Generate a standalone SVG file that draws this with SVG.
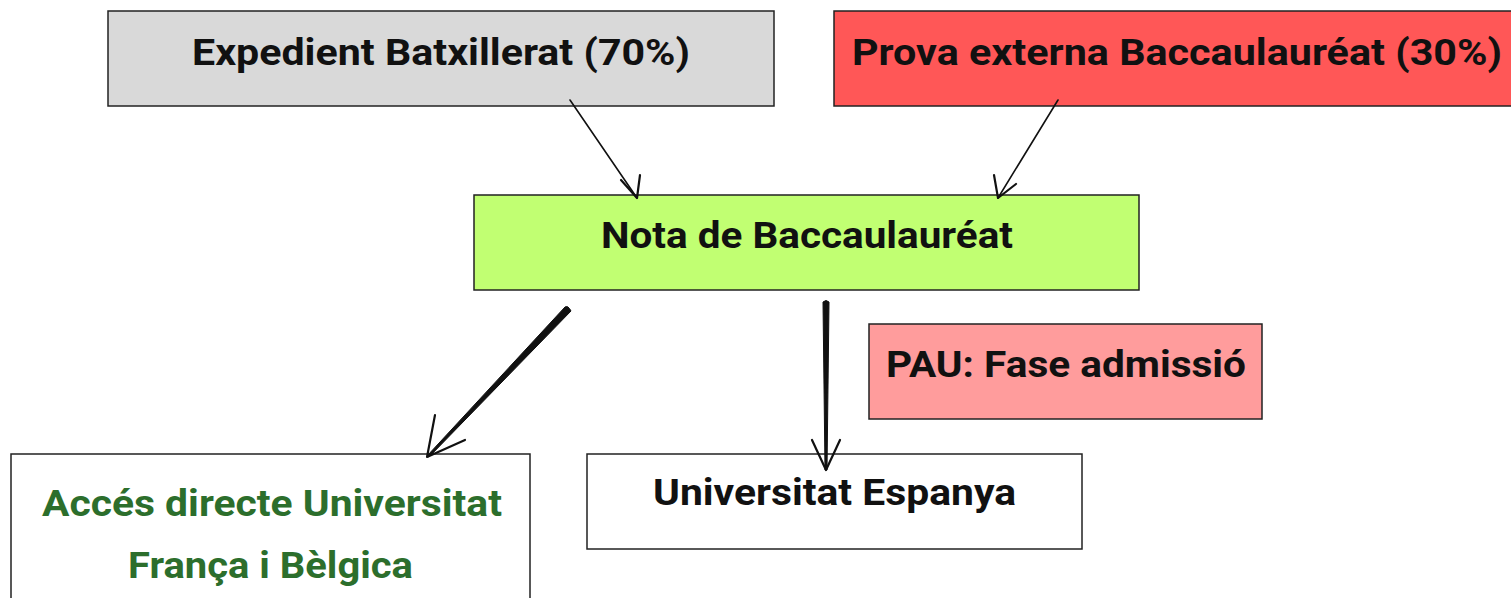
<svg xmlns="http://www.w3.org/2000/svg" width="1511" height="598" viewBox="0 0 1511 598">
<style>
.box{stroke:#222;stroke-width:1.5}
.t{font-family:Roboto,"Liberation Sans",sans-serif;font-weight:700;font-size:36px;fill:#111;text-anchor:middle}
.g{fill:#2c6e2c}
.ln{fill:none;stroke:#111;stroke-width:1.6;stroke-linecap:round;stroke-linejoin:round}
.ah{fill:none;stroke:#111;stroke-width:2.2;stroke-linecap:round;stroke-linejoin:round}
</style>
<rect width="1511" height="598" fill="#fff"/>
<g id="expedient">
<rect class="box" x="108" y="11" width="666" height="95" fill="#d9d9d9"/>
<text class="t" x="441" y="65" textLength="498" lengthAdjust="spacingAndGlyphs">Expedient Batxillerat (70%)</text>
</g>
<g id="prova">
<rect class="box" x="834" y="11" width="690" height="95" fill="#ff5757"/>
<text class="t" x="1177" y="65" textLength="650" lengthAdjust="spacingAndGlyphs">Prova externa Baccaulauréat (30%)</text>
</g>
<g id="nota">
<rect class="box" x="474" y="195" width="665" height="95" fill="#c1ff72"/>
<text class="t" x="807" y="248" textLength="412" lengthAdjust="spacingAndGlyphs">Nota de Baccaulauréat</text>
</g>
<g id="pau">
<rect class="box" x="869" y="324" width="393" height="95" fill="#ff9c9c"/>
<text class="t" x="1066" y="377" textLength="360" lengthAdjust="spacingAndGlyphs">PAU: Fase admissió</text>
</g>
<g id="espanya">
<rect class="box" x="587" y="454" width="495" height="95" fill="#fff"/>
<text class="t" x="834.5" y="505" textLength="363" lengthAdjust="spacingAndGlyphs">Universitat Espanya</text>
</g>
<g id="acces">
<rect class="box" x="11" y="454" width="519" height="160" fill="#fff"/>
<text class="t g" x="272" y="516" textLength="460" lengthAdjust="spacingAndGlyphs">Accés directe Universitat</text>
<text class="t g" x="270.5" y="578" textLength="285" lengthAdjust="spacingAndGlyphs">França i Bèlgica</text>
</g>
<g id="connectors">
<path class="ln" d="M570 100 L637 198"/>
<path class="ah" d="M621 180 L637 198 L640 175"/>
<path class="ln" d="M1058 100 L998 198"/>
<path class="ah" d="M994 175 L998 198 L1016 184"/>
<path d="M565 307 Q568 305 571 311 L429 457 L427 456 Z" fill="#111" stroke="#111" stroke-width="1" stroke-linejoin="round"/>
<path class="ah" d="M435 415 L427 457 L465 440"/>
<path d="M823 302 Q826 299 829 302 L827 470 L825 470 Z" fill="#111" stroke="#111" stroke-width="1" stroke-linejoin="round"/>
<path class="ah" d="M812 440 L826 470 L840 440"/>
</g>
</svg>
